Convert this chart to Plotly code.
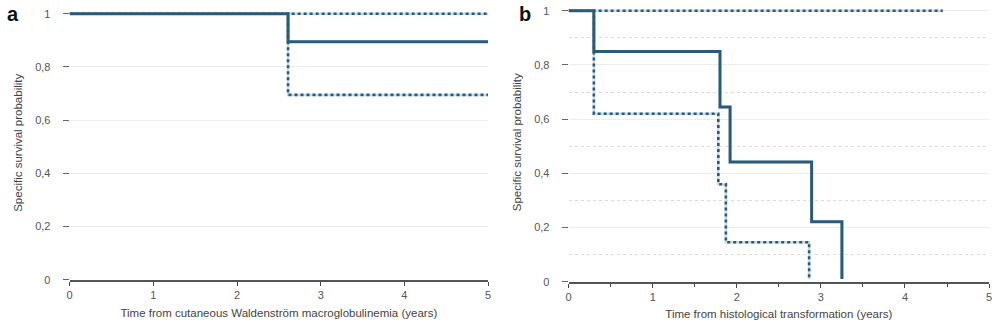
import plotly.graph_objects as go

# ---- data ----
a_time = [0, 2.61, 5]
a_surv = [1, 0.895, 0.895]
a_upper = [1, 1, 1]
a_lower = [1, 0.695, 0.695]

b_time = [0, 0.3, 1.8, 1.92, 2.89, 3.25]
b_surv = [1, 0.85, 0.645, 0.442, 0.221, 0.01]
b_lower_time = [0, 0.3, 1.78, 1.87, 2.86]
b_lower = [1, 0.62, 0.36, 0.146, 0.01]
b_upper_time = [0, 4.45]
b_upper = [1, 1]

y_ticks = [0, 0.2, 0.4, 0.6, 0.8, 1]
y_labels = ["0", "0,2", "0,4", "0,6", "0,8", "1"]
x_ticks = [0, 1, 2, 3, 4, 5]
x_labels = ["0", "1", "2", "3", "4", "5"]

DARK = "#2b5b7a"
LIGHT = "#c6dbe8"

fig = go.Figure()

def add_step(x, y, xa, ya, dotted):
    # pale underlay
    fig.add_trace(go.Scatter(x=x, y=y, mode="lines", line_shape="hv",
                             line=dict(color=LIGHT, width=2.5),
                             xaxis=xa, yaxis=ya, showlegend=False, hoverinfo="skip"))
    fig.add_trace(go.Scatter(x=x, y=y, mode="lines", line_shape="hv",
                             line=dict(color=DARK, width=3 if not dotted else 2.6,
                                       dash="dot" if dotted else "solid"),
                             xaxis=xa, yaxis=ya, showlegend=False))

# panel a
add_step(a_time, a_upper, "x", "y", True)
add_step(a_time, a_lower, "x", "y", True)
add_step(a_time, a_surv, "x", "y", False)

# panel b
add_step(b_upper_time, b_upper, "x2", "y2", True)
add_step(b_lower_time, b_lower, "x2", "y2", True)
add_step(b_time, b_surv, "x2", "y2", False)

font = dict(family="Liberation Sans, Arial, sans-serif", size=11, color="#444")

xcommon = dict(range=[0, 5], tickvals=x_ticks, ticktext=x_labels, showline=True,
               linecolor="#555", linewidth=2, ticks="outside", ticklen=4,
               tickcolor="#444", tickwidth=1.2, showgrid=False, zeroline=False,
               tickfont=dict(size=11, color="#555"))
ycommon = dict(range=[0, 1.03], tickvals=y_ticks, ticktext=y_labels, showline=False,
               ticks="outside", ticklen=6, tickcolor="#666", tickwidth=1,
               ticklabelstandoff=10,
               showgrid=True, gridcolor="#ececec", gridwidth=1, zeroline=False,
               tickfont=dict(size=11, color="#555"),
               title=dict(text="Specific survival probability", font=dict(size=11.5, color="#444"),
                          standoff=10))

fig.update_layout(
    width=1008, height=328,
    margin=dict(l=0, r=0, t=0, b=0),
    paper_bgcolor="white", plot_bgcolor="white",
    font=font,
    showlegend=False,
    xaxis=dict(domain=[0.0665, 0.4841], anchor="y",
               title=dict(text="Time from cutaneous Waldenström macroglobulinemia (years)",
                          font=dict(size=11.5, color="#444"), standoff=9),
               **xcommon),
    yaxis=dict(domain=[0.1311, 0.982], anchor="x", **ycommon),
    xaxis2=dict(domain=[0.5645, 0.9841], anchor="y2",
                title=dict(text="Time from histological transformation (years)",
                           font=dict(size=11.5, color="#444"), standoff=8),
                minor=dict(dtick=0.5, tick0=0, ticks="outside", ticklen=3,
                           tickcolor="#444", showgrid=False),
                **xcommon),
    yaxis2=dict(domain=[0.125, 0.9918], anchor="x2",
                minor=dict(tickvals=[0.1, 0.3, 0.5, 0.7, 0.9], showgrid=True,
                           griddash="dot", gridcolor="#dcdcdc", gridwidth=1, ticks=""),
                **ycommon),
    annotations=[
        dict(text="<b>a</b>", x=10/1008, y=1-14/328, xref="paper", yref="paper",
             showarrow=False, xanchor="center", yanchor="middle",
             font=dict(size=20, color="#111", family="Liberation Sans, Arial")),
        dict(text="<b>b</b>", x=525/1008, y=1-14/328, xref="paper", yref="paper",
             showarrow=False, xanchor="center", yanchor="middle",
             font=dict(size=20, color="#111", family="Liberation Sans, Arial")),
    ],
)

fig.write_html("out.html")
